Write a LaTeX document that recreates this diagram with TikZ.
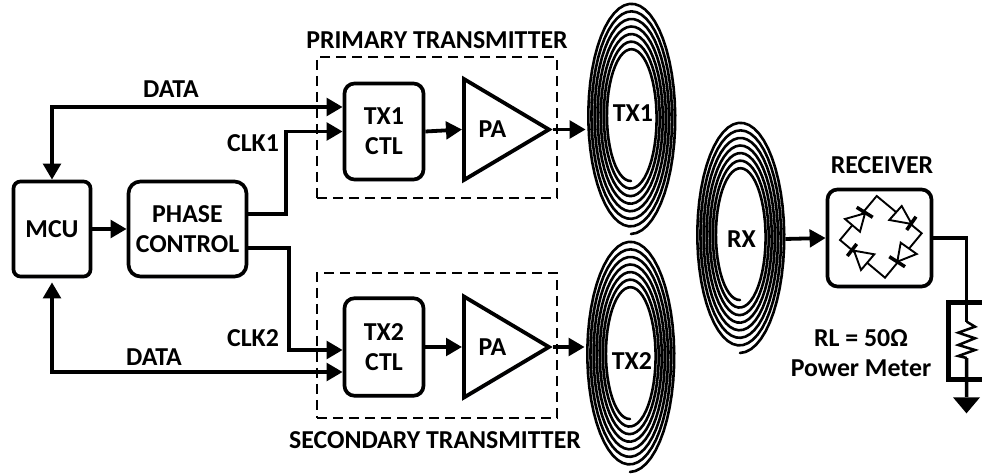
\documentclass[tikz,border=0pt]{standalone}
\usepackage{fontspec}
\setmainfont{Carlito}
\usetikzlibrary{arrows.meta,positioning,shapes.geometric,shadows}
\newcommand{\coil}[2]{\draw[coilline] plot[variable=\t,domain=0:2520,samples=361]
  ({#1-(23.3+\t/360*3.1)*sin(\t)},{#2+(64+\t/360*7.57)*cos(\t)});}
\newcommand{\bridgediode}[5]{\draw[thinwire,fill=white] #1 -- #2 -- #3 -- cycle;
  \draw[line width=0.7mm] #4 -- #5;}

\begin{document}
\begin{tikzpicture}[
  x=0.2mm, y=-0.2mm,
  labl/.style={font=\fontsize{14.7}{17}\selectfont\bfseries, align=center, inner sep=0pt},
  softshadow/.style={drop shadow={shadow xshift=0.5pt, shadow yshift=-1pt, fill=blue!30!gray!45, opacity=0.6}},
  block/.style={labl, draw, line width=0.74mm, rounded corners=0.2cm, fill=white, softshadow},
  amp/.style={labl, draw, line width=0.76mm, fill=white, isosceles triangle, isosceles triangle apex angle=60,
    isosceles triangle stretches, minimum width=2.02cm, minimum height=1.7cm, anchor=west, softshadow},
  txgroup/.style={draw, dashed, dash pattern=on 2mm off 1.2mm, line width=0.38mm, minimum width=4.8cm},
  coilnode/.style={labl, minimum width=1.88cm},
  arr/.style={-{Triangle[length=3.2mm,width=3.5mm]}, line width=0.76mm},
  dblarr/.style={{Triangle[length=3.2mm,width=3.5mm]}-{Triangle[length=3.2mm,width=3.5mm]}, line width=0.76mm},
  wire/.style={line width=0.7mm},
  thinwire/.style={line width=0.38mm, line join=miter},
  coilline/.style={line width=0.52mm, line cap=round}
]
\useasboundingbox (0,0) rectangle (982,476);

% transmitter groups
\node[txgroup, minimum height=2.82cm] (primary) at (437,127.5) {};
\node[txgroup, minimum height=2.9cm] (secondary) at (437,345.5) {};
\node[labl] (primarylbl) at (437,40) {PRIMARY TRANSMITTER};
\node[labl] (secondarylbl) at (435,440) {SECONDARY TRANSMITTER};

% blocks
\node[block, rounded corners=0.14cm, minimum width=1.54cm, minimum height=1.9cm] (mcu) at (52,229) {MCU};
\node[block, rounded corners=0.24cm, minimum width=2.36cm, minimum height=1.9cm] (phase) at (187.5,229) {PHASE\\CONTROL};
\node[block, minimum width=1.58cm, minimum height=1.92cm] (tx1ctl) at (384,131.5) {TX1\\CTL};
\node[block, minimum width=1.58cm, minimum height=1.95cm] (tx2ctl) at (384,347) {TX2\\CTL};
\node[amp] (pa1) at (462,129.5) {PA};
\node[amp] (pa2) at (462,347) {PA};
\node[block, minimum width=2.08cm, minimum height=1.94cm] (receiver) at (879.5,238) {};

% coils
\coil{631}{117}
\coil{630}{355}
\coil{740}{236}
\node[coilnode] (tx1coil) at (633,113) {TX1};
\node[coilnode] (tx2coil) at (632,361) {TX2};
\node[coilnode, minimum width=1.74cm] (rxcoil) at (741.5,239) {RX};

% bridge rectifier
\coordinate (brleft) at (840,240);
\coordinate (brtop) at (876.7,196);
\coordinate (brright) at (921.7,233.3);
\coordinate (brbot) at (885,277.7);
\draw[thinwire] (brleft) -- (brtop) -- (brright) -- (brbot) -- cycle;
\bridgediode{(845,219)}{(860,231.7)}{(865,213.3)}{(856.7,207.3)}{(872.7,217.3)}
\bridgediode{(901.7,206)}{(889.3,220)}{(911.7,224)}{(906.7,230)}{(916,216.7)}
\bridgediode{(900.7,242.7)}{(916.7,254)}{(897.3,261.7)}{(889.3,256.7)}{(905,266.7)}
\bridgediode{(874.3,254.3)}{(861,270)}{(854,250.7)}{(847.3,256)}{(856.7,244)}

% connections
\draw[dblarr] (mcu.north) |- ([yshift=0.49cm]tx1ctl.west);
\draw[dblarr, shorten <=0.8mm] (mcu.south) |- ([yshift=-0.5cm]tx2ctl.west);
\draw[arr] (mcu) -- (phase);
\draw[arr] ([yshift=0.3cm]phase.east) -- ++(38,0) |- (tx1ctl.west);
\draw[arr] ([yshift=-0.38cm]phase.east) -- ++(41,0) |- ([yshift=-0.06cm]tx2ctl.west);
\draw[arr] (tx1ctl.east) -- (pa1.west);
\draw[arr] (tx2ctl.east) -- (pa2.west);
\draw[arr] (pa1.apex) -- (pa1.apex -| tx1coil.west);
\draw[arr] (pa2.apex) -- (pa2.apex -| tx2coil.west);
\draw[arr] (rxcoil.east) -- (receiver.west);

% power meter
\coordinate (rtop) at (966.7,321.7);
\coordinate (rbot) at (966.7,358);
\node[isosceles triangle, isosceles triangle stretches, shape border rotate=-90, fill=black, inner sep=0pt,
  minimum width=0.54cm, minimum height=0.32cm, anchor=north] (gnd) at (966.5,397) {};
\draw[wire] (receiver.east) -| (rtop);
\draw[thinwire, line width=0.5mm] (rtop) -- (975,326.7) -- (958.3,332.7) -- (975,338.3) -- (958.3,345)
  -- (975,350) -- (958.3,356) -- (rbot);
\draw[wire] (rbot) -- (gnd.north);
\draw[line width=0.94mm] (982,302.5) -- (948.5,302.5) -- (948.5,379.5) -- (982,379.5);

% labels
\node[labl] (data1) at (171,89) {DATA};
\node[labl] (data2) at (154,357) {DATA};
\node[labl] (clk1) at (253,143) {CLK1};
\node[labl] (clk2) at (253,338) {CLK2};
\node[labl] (rxlbl) at (882,165) {RECEIVER};
\node[labl] (meterlbl) at (861,353.5) {RL = 50Ω\\Power Meter};
\end{tikzpicture}
\end{document}
